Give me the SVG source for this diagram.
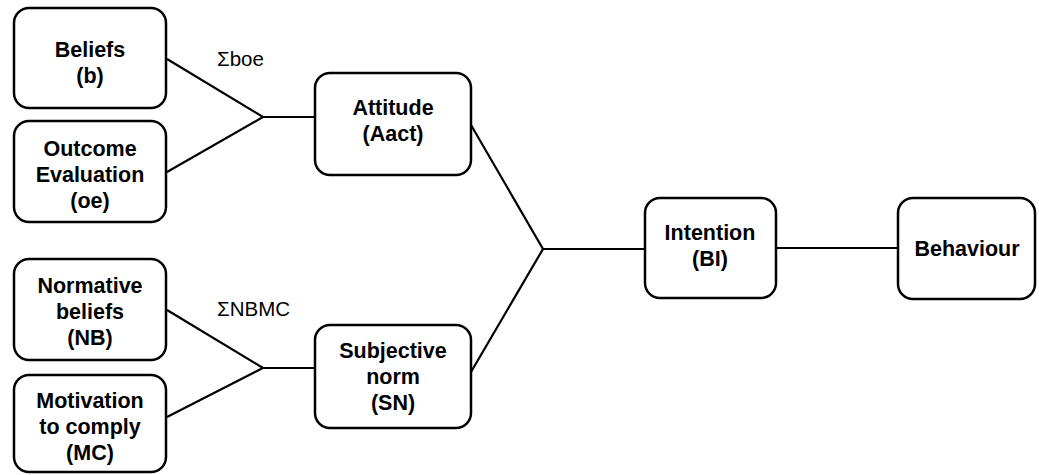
<svg xmlns="http://www.w3.org/2000/svg" width="1039" height="475" viewBox="0 0 1039 475">
<style>
.box{fill:#fff;stroke:#000;stroke-width:2.5}
.t{font-family:"Liberation Sans",Arial,sans-serif;font-weight:bold;font-size:21.5px;text-anchor:middle;fill:#000}
.l{font-family:"Liberation Sans",Arial,sans-serif;font-size:20.5px;fill:#000}
.c{fill:none;stroke:#000;stroke-width:2.2}
</style>
<rect width="1039" height="475" fill="#fff"/>
<g id="connectors">
<polyline class="c" points="167,59 263,117 167,172"/>
<line class="c" x1="263" y1="117" x2="316" y2="117"/>
<polyline class="c" points="167,310 263,368 167,417"/>
<line class="c" x1="263" y1="368" x2="316" y2="368"/>
<polyline class="c" points="471,125 543,249 471,372"/>
<line class="c" x1="543" y1="249" x2="645" y2="249"/>
<line class="c" x1="776" y1="248" x2="898" y2="248"/>
<text class="l" x="217" y="66">Σboe</text>
<text class="l" x="217" y="316">ΣNBMC</text>
</g>
<g id="beliefs">
<rect class="box" x="14" y="8" width="152" height="100" rx="15"/>
<text class="t" x="90" y="57">Beliefs</text>
<text class="t" x="90" y="83">(b)</text>
</g>
<g id="outcome">
<rect class="box" x="14" y="121" width="152" height="101" rx="15"/>
<text class="t" x="90" y="156">Outcome</text>
<text class="t" x="90" y="182">Evaluation</text>
<text class="t" x="90" y="208">(oe)</text>
</g>
<g id="normative">
<rect class="box" x="14" y="259" width="152" height="101" rx="15"/>
<text class="t" x="90" y="293">Normative</text>
<text class="t" x="90" y="319">beliefs</text>
<text class="t" x="90" y="345">(NB)</text>
</g>
<g id="motivation">
<rect class="box" x="14" y="375" width="152" height="97" rx="15"/>
<text class="t" x="90" y="408">Motivation</text>
<text class="t" x="90" y="434">to comply</text>
<text class="t" x="90" y="460">(MC)</text>
</g>
<g id="attitude">
<rect class="box" x="315" y="73" width="156" height="102" rx="15"/>
<text class="t" x="393" y="115">Attitude</text>
<text class="t" x="393" y="141">(Aact)</text>
</g>
<g id="subjective">
<rect class="box" x="315" y="325" width="156" height="103" rx="15"/>
<text class="t" x="393" y="358">Subjective</text>
<text class="t" x="393" y="384">norm</text>
<text class="t" x="393" y="410">(SN)</text>
</g>
<g id="intention">
<rect class="box" x="645" y="198" width="131" height="100" rx="15"/>
<text class="t" x="710" y="240">Intention</text>
<text class="t" x="710" y="266">(BI)</text>
</g>
<g id="behaviour">
<rect class="box" x="898" y="198" width="137" height="101" rx="15"/>
<text class="t" x="967" y="256">Behaviour</text>
</g>
</svg>
